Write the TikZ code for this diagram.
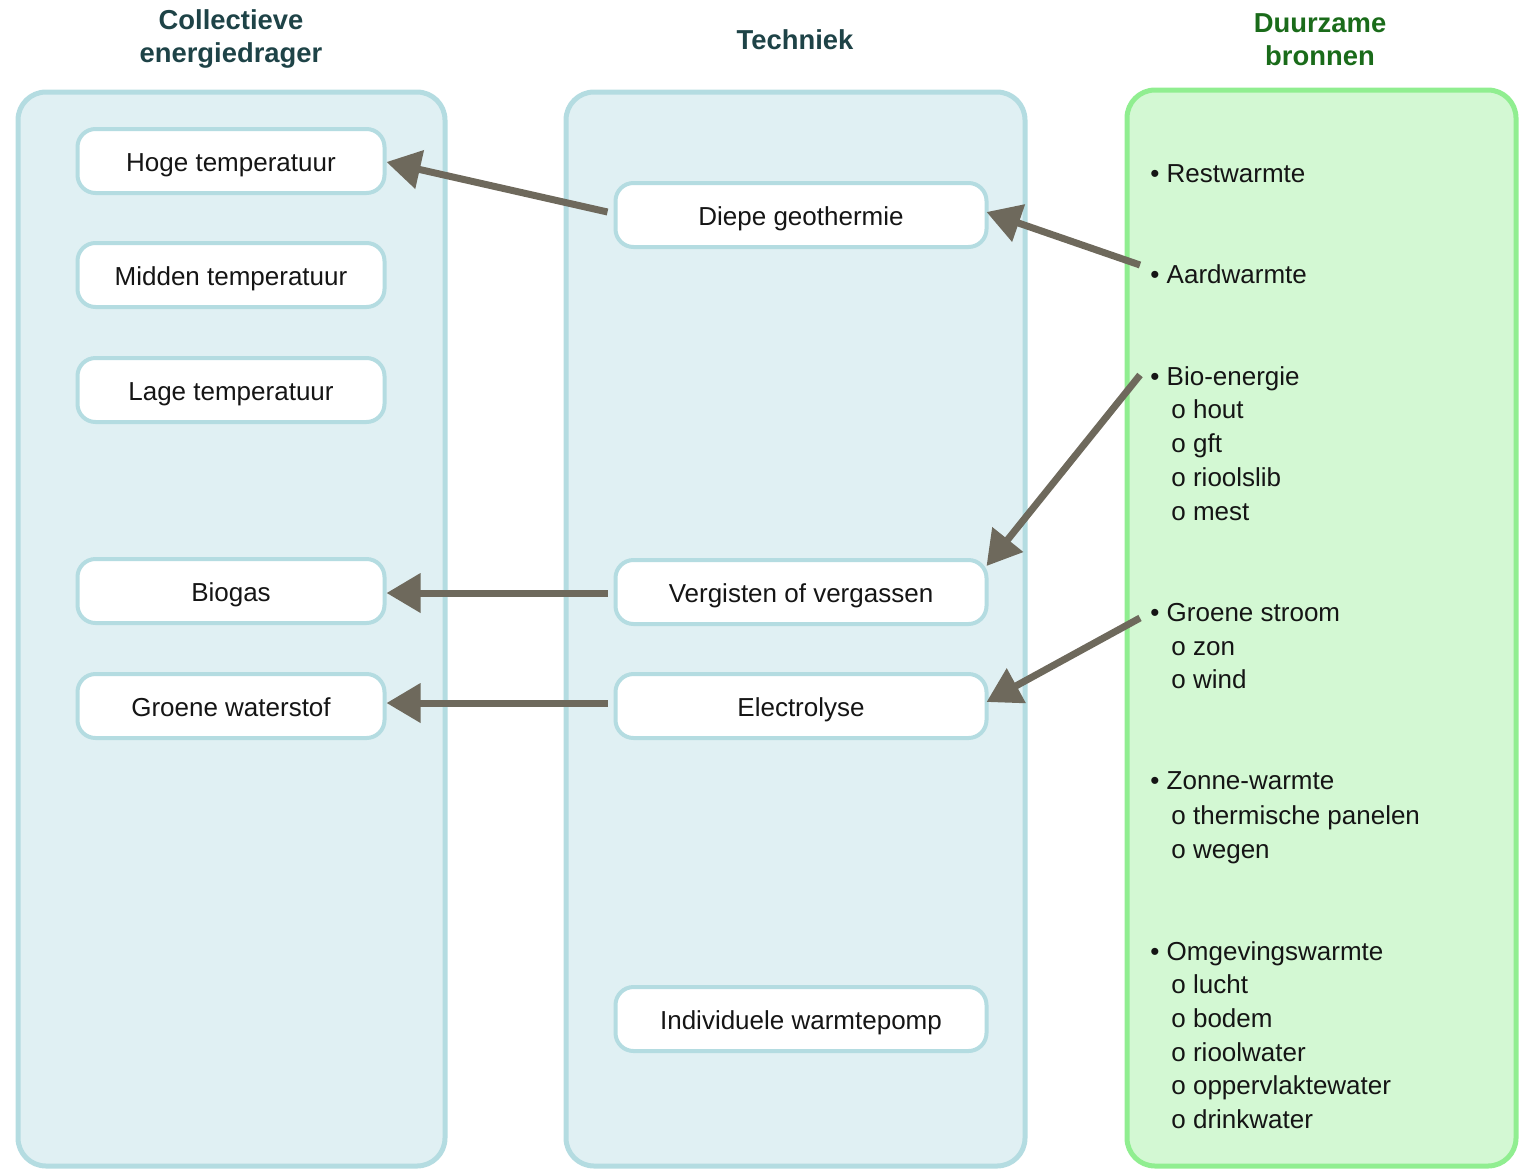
\documentclass[tikz,border=0pt]{standalone}
\usepackage{fontspec}
\setmainfont{Liberation Sans}
\usetikzlibrary{arrows.meta,calc}
\definecolor{panelfill}{HTML}{E0F0F3}
\definecolor{panelline}{HTML}{B4DCE1}
\definecolor{greenfill}{HTML}{D3F8D3}
\definecolor{greenline}{HTML}{90EE90}
\definecolor{arrowc}{HTML}{6E695C}
\definecolor{titleblue}{HTML}{1E4347}
\definecolor{titlegreen}{HTML}{1A6B1A}
\definecolor{txt}{HTML}{151515}
\tikzset{
  panel/.style={draw=panelline, fill=panelfill, line width=2.5pt, rounded corners=14pt},
  gpanel/.style={draw=greenline, fill=greenfill, line width=2.5pt, rounded corners=14pt},
  lbox/.style={draw=panelline, fill=white, line width=2pt, rounded corners=9pt,
    minimum width=153.5pt, minimum height=32pt, inner sep=0pt, text=txt,
    text height=10pt, text depth=0pt,
    font=\fontsize{13}{15}\selectfont},
  mbox/.style={lbox, minimum width=185.5pt},
  coltitle/.style={font=\fontsize{13.7}{16.5}\selectfont\bfseries, align=center, inner sep=0pt},
  item/.style={anchor=base west, inner sep=0pt, text=txt, font=\fontsize{13}{15}\selectfont},
  arr/.style={draw=arrowc, line width=3.5pt, -{Triangle[length=17pt,width=19pt]}}
}
\begin{document}
\begin{tikzpicture}[x=0.5pt,y=-0.5pt]
\useasboundingbox (0,0) rectangle (1524,1173);
\clip (0,0) rectangle (1524,1173);
% panels
\draw[panel] (18,92) rectangle (445,1166);
\draw[panel] (566,92) rectangle (1025,1166);
\draw[gpanel] (1127,90) rectangle (1516,1166);
% titles
\node[coltitle, text=titleblue] (t1) at (231,39) {Collectieve\\energiedrager};
\node[coltitle, text=titleblue] (t2) at (795,40) {Techniek};
\node[coltitle, text=titlegreen] (t3) at (1320,40) {Duurzame\\bronnen};
% left boxes
\node[lbox] (hoge) at (231,161) {Hoge temperatuur};
\node[lbox] (midden) at (231,275) {Midden temperatuur};
\node[lbox] (lage) at (231,390) {Lage temperatuur};
\node[lbox] (biogas) at (231,591) {Biogas};
\node[lbox] (gw) at (231,706) {Groene waterstof};
% middle boxes
\node[mbox] (diepe) at (801,215) {Diepe geothermie};
\node[mbox] (verg) at (801,592) {Vergisten of vergassen};
\node[mbox] (elec) at (801,706) {Electrolyse};
\node[mbox] (iwp) at (801,1019) {Individuele warmtepomp};
% right list
\node[item] (rest) at (1150,182) {• Restwarmte};
\node[item] (aard) at (1150,283) {• Aardwarmte};
\node[item] (bio) at (1150,385) {• Bio-energie};
\node[item] (bio1) at (1171,418) {o hout};
\node[item] (bio2) at (1171,452) {o gft};
\node[item] (bio3) at (1171,486) {o rioolslib};
\node[item] (bio4) at (1171,520) {o mest};
\node[item] (gs) at (1150,621) {• Groene stroom};
\node[item] (gs1) at (1171,655) {o zon};
\node[item] (gs2) at (1171,688) {o wind};
\node[item] (zw) at (1150,789) {• Zonne-warmte};
\node[item] (zw1) at (1171,824) {o thermische panelen};
\node[item] (zw2) at (1171,858) {o wegen};
\node[item] (om) at (1150,960) {• Omgevingswarmte};
\node[item] (om1) at (1171,993) {o lucht};
\node[item] (om2) at (1171,1027) {o bodem};
\node[item] (om3) at (1171,1061) {o rioolwater};
\node[item] (om4) at (1171,1094) {o oppervlaktewater};
\node[item] (om5) at (1171,1128) {o drinkwater};
% arrow start points
\coordinate (aardS) at (1140,265);
\coordinate (bioS) at (1140,375);
\coordinate (gsS) at (1140,618);
% arrows
\draw[arr] ($(diepe.west)+(-6,-3)$) -- ($(hoge.east)+(0,1)$);
\draw[arr] (aardS) -- ($(diepe.east)+(-2,-3)$);
\draw[arr] (bioS) -- ($(verg.north east)+(-2,8)$);
\draw[arr] ($(verg.west)+(-6,1)$) -- ($(verg.west -| biogas.east)+(0,1)$);
\draw[arr] (gsS) -- ($(elec.east)+(-2,-4)$);
\draw[arr] ($(elec.west)+(-6,-3)$) -- ($(elec.west -| gw.east)+(0,-3)$);
\end{tikzpicture}
\end{document}
